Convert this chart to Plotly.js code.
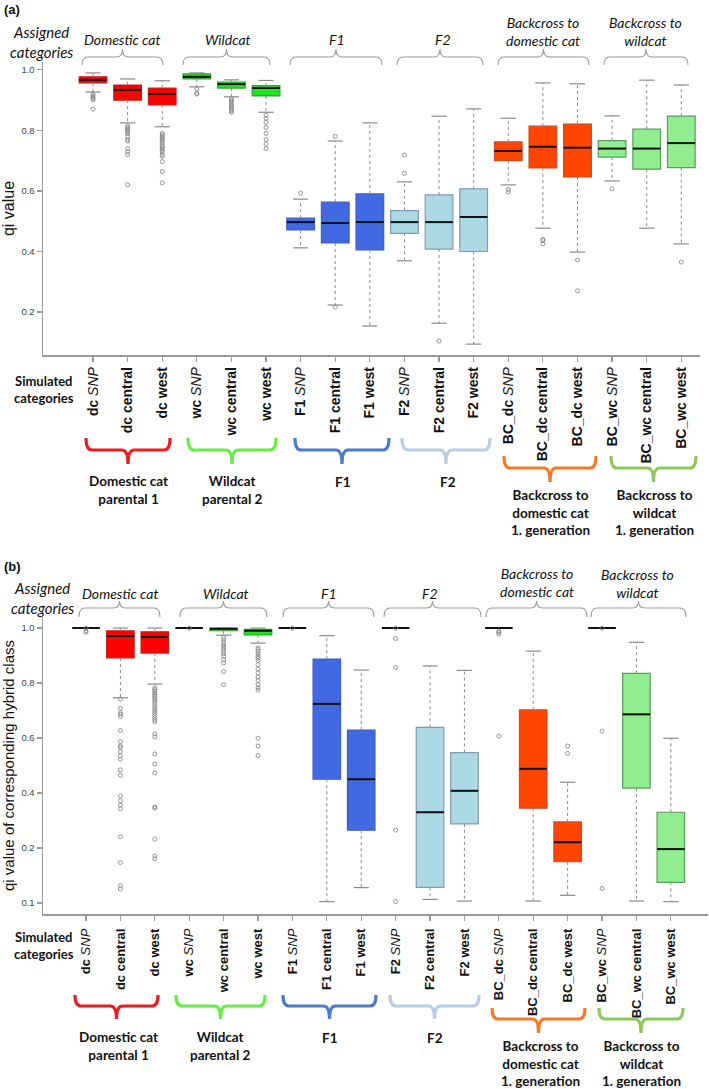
<!DOCTYPE html>
<html>
<head>
<meta charset="utf-8">
<script src="https://cdn.plot.ly/plotly-3.0.1.min.js"></script>
<style>html,body{margin:0;padding:0;background:#fff;}#chart{width:709px;height:1089px;}</style>
</head>
<body>
<div id="chart"></div>
<script>
// ---------------- DATA ----------------
const simulatedCategories = [
  '<b>dc</b> <i>SNP</i>', '<b>dc central</b>', '<b>dc west</b>',
  '<b>wc</b> <i>SNP</i>', '<b>wc central</b>', '<b>wc west</b>',
  '<b>F1</b> <i>SNP</i>', '<b>F1 central</b>', '<b>F1 west</b>',
  '<b>F2</b> <i>SNP</i>', '<b>F2 central</b>', '<b>F2 west</b>',
  '<b>BC_dc</b> <i>SNP</i>', '<b>BC_dc central</b>', '<b>BC_dc west</b>',
  '<b>BC_wc</b> <i>SNP</i>', '<b>BC_wc central</b>', '<b>BC_wc west</b>'
];
const assignedCategories = ['Domestic cat', 'Wildcat', 'F1', 'F2', 'Backcross to<br>domestic cat', 'Backcross to<br>wildcat'];
const simulatedGroups = ['Domestic cat<br>parental 1', 'Wildcat<br>parental 2', 'F1', 'F2',
  'Backcross to<br>domestic cat<br>1. generation', 'Backcross to<br>wildcat<br>1. generation'];

// Panel (a): qi value
const aLow  = [0.927, 0.825, 0.812, 0.944, 0.911, 0.860, 0.412, 0.223, 0.154, 0.369, 0.163, 0.094, 0.620, 0.477, 0.398, 0.633, 0.477, 0.425];
const aQ1   = [0.957, 0.900, 0.884, 0.970, 0.940, 0.914, 0.471, 0.428, 0.405, 0.460, 0.408, 0.400, 0.700, 0.676, 0.646, 0.712, 0.672, 0.677];
const aMed  = [0.967, 0.934, 0.920, 0.977, 0.953, 0.940, 0.497, 0.494, 0.497, 0.497, 0.497, 0.514, 0.732, 0.746, 0.743, 0.740, 0.740, 0.758];
const aQ3   = [0.977, 0.950, 0.940, 0.987, 0.960, 0.948, 0.510, 0.563, 0.590, 0.535, 0.587, 0.607, 0.762, 0.814, 0.821, 0.766, 0.804, 0.847];
const aHigh = [0.990, 0.970, 0.964, 0.990, 0.967, 0.965, 0.573, 0.765, 0.825, 0.630, 0.847, 0.871, 0.840, 0.957, 0.954, 0.848, 0.966, 0.950];
const aOutliers = [
  [0.920, 0.915, 0.910, 0.905, 0.900, 0.870],
  [0.815, 0.810, 0.805, 0.800, 0.795, 0.790, 0.780, 0.770, 0.765, 0.740, 0.730, 0.720, 0.620],
  [0.790, 0.785, 0.780, 0.775, 0.770, 0.765, 0.760, 0.750, 0.745, 0.740, 0.735, 0.730, 0.720, 0.715, 0.697, 0.664, 0.627],
  [0.937, 0.923, 0.920],
  [0.905, 0.900, 0.895, 0.890, 0.885, 0.880, 0.875, 0.870, 0.865, 0.860],
  [0.850, 0.840, 0.827, 0.810, 0.790, 0.770, 0.755, 0.740],
  [0.593],
  [0.780, 0.216],
  [],
  [0.719, 0.658],
  [0.104],
  [],
  [0.605, 0.597],
  [0.440, 0.436, 0.425],
  [0.372, 0.270],
  [0.607],
  [],
  [0.365]
];

// Panel (b): qi value of corresponding hybrid class
const bLow  = [1.000, 0.746, 0.796, 1.000, 0.974, 0.945, 1.000, 0.005, 0.056, 1.000, 0.013, 0.007, 1.000, 0.007, 0.028, 1.000, 0.007, 0.005];
const bQ1   = [1.000, 0.891, 0.909, 1.000, 0.990, 0.975, 1.000, 0.450, 0.265, 1.000, 0.057, 0.288, 1.000, 0.345, 0.150, 1.000, 0.418, 0.075];
const bMed  = [1.000, 0.971, 0.967, 1.000, 0.997, 0.990, 1.000, 0.724, 0.450, 1.000, 0.330, 0.408, 1.000, 0.488, 0.221, 1.000, 0.686, 0.196];
const bQ3   = [1.000, 0.990, 0.986, 1.000, 1.000, 0.995, 1.000, 0.887, 0.629, 1.000, 0.639, 0.547, 1.000, 0.702, 0.295, 1.000, 0.835, 0.330];
const bHigh = [1.000, 1.000, 1.000, 1.000, 1.000, 1.000, 1.000, 0.972, 0.847, 1.000, 0.862, 0.846, 1.000, 0.916, 0.439, 1.000, 0.948, 0.599];
const bOutliers = [
  [0.999, 0.989, 0.985],
  [0.741, 0.708, 0.692, 0.686, 0.678, 0.627, 0.587, 0.571, 0.565, 0.550, 0.535, 0.523, 0.484, 0.465, 0.390, 0.372, 0.356, 0.343, 0.241, 0.147, 0.063, 0.051],
  [0.782, 0.776, 0.770, 0.764, 0.758, 0.752, 0.746, 0.738, 0.730, 0.722, 0.714, 0.706, 0.698, 0.690, 0.682, 0.674, 0.666, 0.659, 0.615, 0.604, 0.542, 0.505, 0.473, 0.349, 0.345, 0.232, 0.171, 0.161],
  [0.999],
  [0.966, 0.957, 0.947, 0.938, 0.930, 0.923, 0.915, 0.906, 0.897, 0.885, 0.873, 0.842, 0.794],
  [0.928, 0.922, 0.915, 0.906, 0.897, 0.890, 0.882, 0.867, 0.851, 0.837, 0.822, 0.809, 0.794, 0.782, 0.774, 0.599, 0.571, 0.536],
  [0.999],
  [],
  [],
  [0.999, 0.962, 0.856, 0.265, 0.005],
  [],
  [],
  [0.989, 0.984, 0.978, 0.607],
  [],
  [0.571, 0.544],
  [0.999, 0.625, 0.053],
  [],
  []
];

const yTicksA = [0.2, 0.4, 0.6, 0.8, 1.0];
const yTickTextA = ['0.2', '0.4', '0.6', '0.8', '1.0'];
const yTicksB = [0.0, 0.2, 0.4, 0.6, 0.8, 1.0];
const yTickTextB = ['0.1', '0.2', '0.4', '0.6', '0.8', '1.0'];

const groupFill   = ['#FF0000', '#1EE61E', '#4169E1', '#ADD8E6', '#FF4500', '#90EE90'];
const groupBorder = ['#c82020', '#2aa82a', '#3f5fc0', '#7f9dab', '#cf4a1c', '#5a9c5a'];
const braceColors = ['#ee1c1c', '#66ee44', '#4a7cc8', '#b8cde6', '#f57a28', '#8dc95a'];

// ---------------- LAYOUT HELPERS ----------------
const W = 709, H = 1089;
const fx = x => (x / W).toFixed(5);
const fy = y => (1 - y / H).toFixed(5);

function bracePath(x0, x1, yEnd, yLine, yTip) {
  const r = 6, xc = (x0 + x1) / 2;
  const p = (x, y) => fx(x) + ',' + fy(y);
  return 'M' + p(x0, yEnd) + ' Q' + p(x0, yLine) + ' ' + p(x0 + r, yLine) +
    ' L' + p(xc - r, yLine) + ' Q' + p(xc, yLine) + ' ' + p(xc, yTip) +
    ' Q' + p(xc, yLine) + ' ' + p(xc + r, yLine) +
    ' L' + p(x1 - r, yLine) + ' Q' + p(x1, yLine) + ' ' + p(x1, yEnd);
}

const traces = [];
function addPanel(xa, ya, low, q1, med, q3, high, outliers) {
  const n = med.length;
  const wx = [], wy = [], cx = [], cy = [], mx = [], my = [], ox = [], oy = [];
  for (let i = 0; i < n; i++) {
    wx.push(i, i, null, i, i, null);
    wy.push(q3[i], high[i], null, q1[i], low[i], null);
    cx.push(i - 0.22, i + 0.22, null, i - 0.22, i + 0.22, null);
    cy.push(high[i], high[i], null, low[i], low[i], null);
    mx.push(i - 0.4, i + 0.4, null);
    my.push(med[i], med[i], null);
    outliers[i].forEach(v => { ox.push(i); oy.push(v); });
  }
  traces.push({type: 'scatter', mode: 'lines', x: wx, y: wy, xaxis: xa, yaxis: ya,
    line: {color: '#8a8a8a', width: 1, dash: 'dot'}, hoverinfo: 'skip', showlegend: false});
  traces.push({type: 'scatter', mode: 'lines', x: cx, y: cy, xaxis: xa, yaxis: ya,
    line: {color: '#8a8a8a', width: 1.2}, hoverinfo: 'skip', showlegend: false});
  for (let g = 0; g < 6; g++) {
    const idx = [3 * g, 3 * g + 1, 3 * g + 2];
    traces.push({
      type: 'box', xaxis: xa, yaxis: ya, x: idx,
      q1: idx.map(i => q1[i]), median: idx.map(i => med[i]), q3: idx.map(i => q3[i]),
      lowerfence: idx.map(i => q1[i]), upperfence: idx.map(i => q3[i]),
      width: 0.8, boxpoints: false, fillcolor: groupFill[g],
      line: {color: groupBorder[g], width: 1.2}, whiskerwidth: 0,
      hoverinfo: 'skip', showlegend: false
    });
  }
  traces.push({type: 'scatter', mode: 'lines', x: mx, y: my, xaxis: xa, yaxis: ya,
    line: {color: '#111111', width: 2}, hoverinfo: 'skip', showlegend: false});
  traces.push({type: 'scatter', mode: 'markers', x: ox, y: oy, xaxis: xa, yaxis: ya,
    marker: {symbol: 'circle-open', size: 4, color: '#8a8a8a', line: {width: 0.9}},
    hoverinfo: 'skip', showlegend: false});
}
addPanel('x', 'y', aLow, aQ1, aMed, aQ3, aHigh, aOutliers);
addPanel('x2', 'y2', bLow, bQ1, bMed, bQ3, bHigh, bOutliers);

const catIdx = simulatedCategories.map((_, i) => i);
const axisCommon = {
  showline: true, linecolor: '#9a9a9a', linewidth: 1.5, mirror: false,
  ticks: 'outside', ticklen: 5, tickcolor: '#9a9a9a', tickwidth: 1.2,
  showgrid: false, zeroline: false, fixedrange: true
};
const xCommon = Object.assign({}, axisCommon, {
  tickmode: 'array', tickvals: catIdx, ticktext: simulatedCategories, tickangle: -90
});
const yCommon = Object.assign({}, axisCommon, {
  tickmode: 'array', tickfont: {family: 'Liberation Sans, Arial, sans-serif', size: 9.5, color: '#444'}
});

const layout = {
  width: W, height: H, autosize: false,
  margin: {l: 0, r: 0, t: 0, b: 0, pad: 0},
  paper_bgcolor: '#fff', plot_bgcolor: '#fff',
  showlegend: false,
  xaxis: Object.assign({}, xCommon, {
    domain: [43 / W, 700 / W], range: [-1.445, 17.54], anchor: 'y',
    tickfont: {family: 'Liberation Sans, Arial, sans-serif', size: 14, color: '#111'}
  }),
  yaxis: Object.assign({}, yCommon, {
    domain: [1 - 355 / H, 1 - 62 / H], range: [0.058, 1.026], anchor: 'x',
    tickvals: yTicksA, ticktext: yTickTextA,
    title: {text: 'qi value', standoff: 7, font: {family: 'Liberation Sans, Arial, sans-serif', size: 16, color: '#111'}}
  }),
  xaxis2: Object.assign({}, xCommon, {
    domain: [43 / W, 708 / W], range: [-1.25, 18.08], anchor: 'y2',
    ticklabelstandoff: 3,
    tickfont: {family: 'Liberation Sans, Arial, sans-serif', size: 13, color: '#111'}
  }),
  yaxis2: Object.assign({}, yCommon, {
    domain: [1 - 914 / H, 1 - 617 / H], range: [-0.04, 1.04], anchor: 'x2',
    tickvals: yTicksB, ticktext: yTickTextB,
    title: {text: 'qi value of corresponding hybrid class', standoff: 7, font: {family: 'Liberation Sans, Arial, sans-serif', size: 15, color: '#111'}}
  }),
  shapes: [],
  annotations: []
};

// gray "assigned" braces
const topBracesA = [[82, 163], [183, 270], [290, 382], [397, 483], [498, 589], [604, 688]];
const topBracesB = [[79, 160], [180, 267], [283, 374], [384, 481], [486, 587], [591, 686]];
topBracesA.forEach(b => layout.shapes.push({type: 'path', xref: 'paper', yref: 'paper',
  path: bracePath(b[0], b[1], 65, 57, 49), line: {color: '#9a9a9a', width: 1.1}}));
topBracesB.forEach(b => layout.shapes.push({type: 'path', xref: 'paper', yref: 'paper',
  path: bracePath(b[0], b[1], 617, 608, 601), line: {color: '#9a9a9a', width: 1.1}}));

// colored "simulated" braces
const botBracesA = [[86, 170], [188, 276], [295, 389], [402, 490], [504, 596], [611, 696]];
const botBracesB = [[75, 158], [176, 265], [283, 376], [390, 479], [492, 585], [599, 683]];
botBracesA.forEach((b, g) => {
  const low = g >= 4;
  layout.shapes.push({type: 'path', xref: 'paper', yref: 'paper',
    path: low ? bracePath(b[0], b[1], 456, 468, 482) : bracePath(b[0], b[1], 438, 450, 464),
    line: {color: braceColors[g], width: 3.2}});
});
botBracesB.forEach((b, g) => {
  const low = g >= 4;
  layout.shapes.push({type: 'path', xref: 'paper', yref: 'paper',
    path: low ? bracePath(b[0], b[1], 1008, 1019, 1033) : bracePath(b[0], b[1], 995, 1006, 1019),
    line: {color: braceColors[g], width: 3.2}});
});

function ann(text, x, y, font, extra) {
  layout.annotations.push(Object.assign({
    text: text, x: +fx(x), y: +fy(y), xref: 'paper', yref: 'paper',
    xanchor: 'center', yanchor: 'middle', showarrow: false, font: font
  }, extra || {}));
}
const calI = {family: 'Lato, Carlito, Calibri, sans-serif', size: 14, color: '#111', style: 'italic'};
const calB = {family: 'Lato, Carlito, Calibri, sans-serif', size: 13.5, color: '#111', weight: 'bold'};

// panel labels
ann('<b>(a)</b>', 12, 10, {family: 'Liberation Sans, Arial, sans-serif', size: 13, color: '#111'});
ann('<b>(b)</b>', 12, 567, {family: 'Liberation Sans, Arial, sans-serif', size: 13, color: '#111'});

// assigned categories (top)
ann('Assigned<br>categories', 41, 42, Object.assign({}, calI, {size: 15}));
ann('Assigned<br>categories', 42, 598, Object.assign({}, calI, {size: 15}));
const topTxtA = [[123, 40], [228, 40], [337, 40], [443, 40], [543, 31], [646, 32]];
const topTxtB = [[121, 593], [226, 593], [329, 593], [430, 593], [537, 583], [637, 584]];
assignedCategories.forEach((t, g) => {
  ann(t, topTxtA[g][0], topTxtA[g][1], calI);
  ann(t, topTxtB[g][0], topTxtB[g][1], calI);
});

// simulated categories (bottom)
ann('Simulated<br>categories', 44, 389, Object.assign({}, calB, {size: 13}));
ann('Simulated<br>categories', 44, 945, Object.assign({}, calB, {size: 13}));
const botTxtA = [[128, 490], [233, 490], [342, 482], [448, 482], [551, 512], [654, 512]];
const botTxtB = [[119, 1046], [220, 1046], [330, 1038], [435, 1038], [540, 1064], [642, 1064]];
simulatedGroups.forEach((t, g) => {
  ann(t, botTxtA[g][0], botTxtA[g][1], calB);
  ann(t, botTxtB[g][0], botTxtB[g][1], calB);
});

Plotly.newPlot('chart', traces, layout, {staticPlot: true, displayModeBar: false});
</script>
</body>
</html>
